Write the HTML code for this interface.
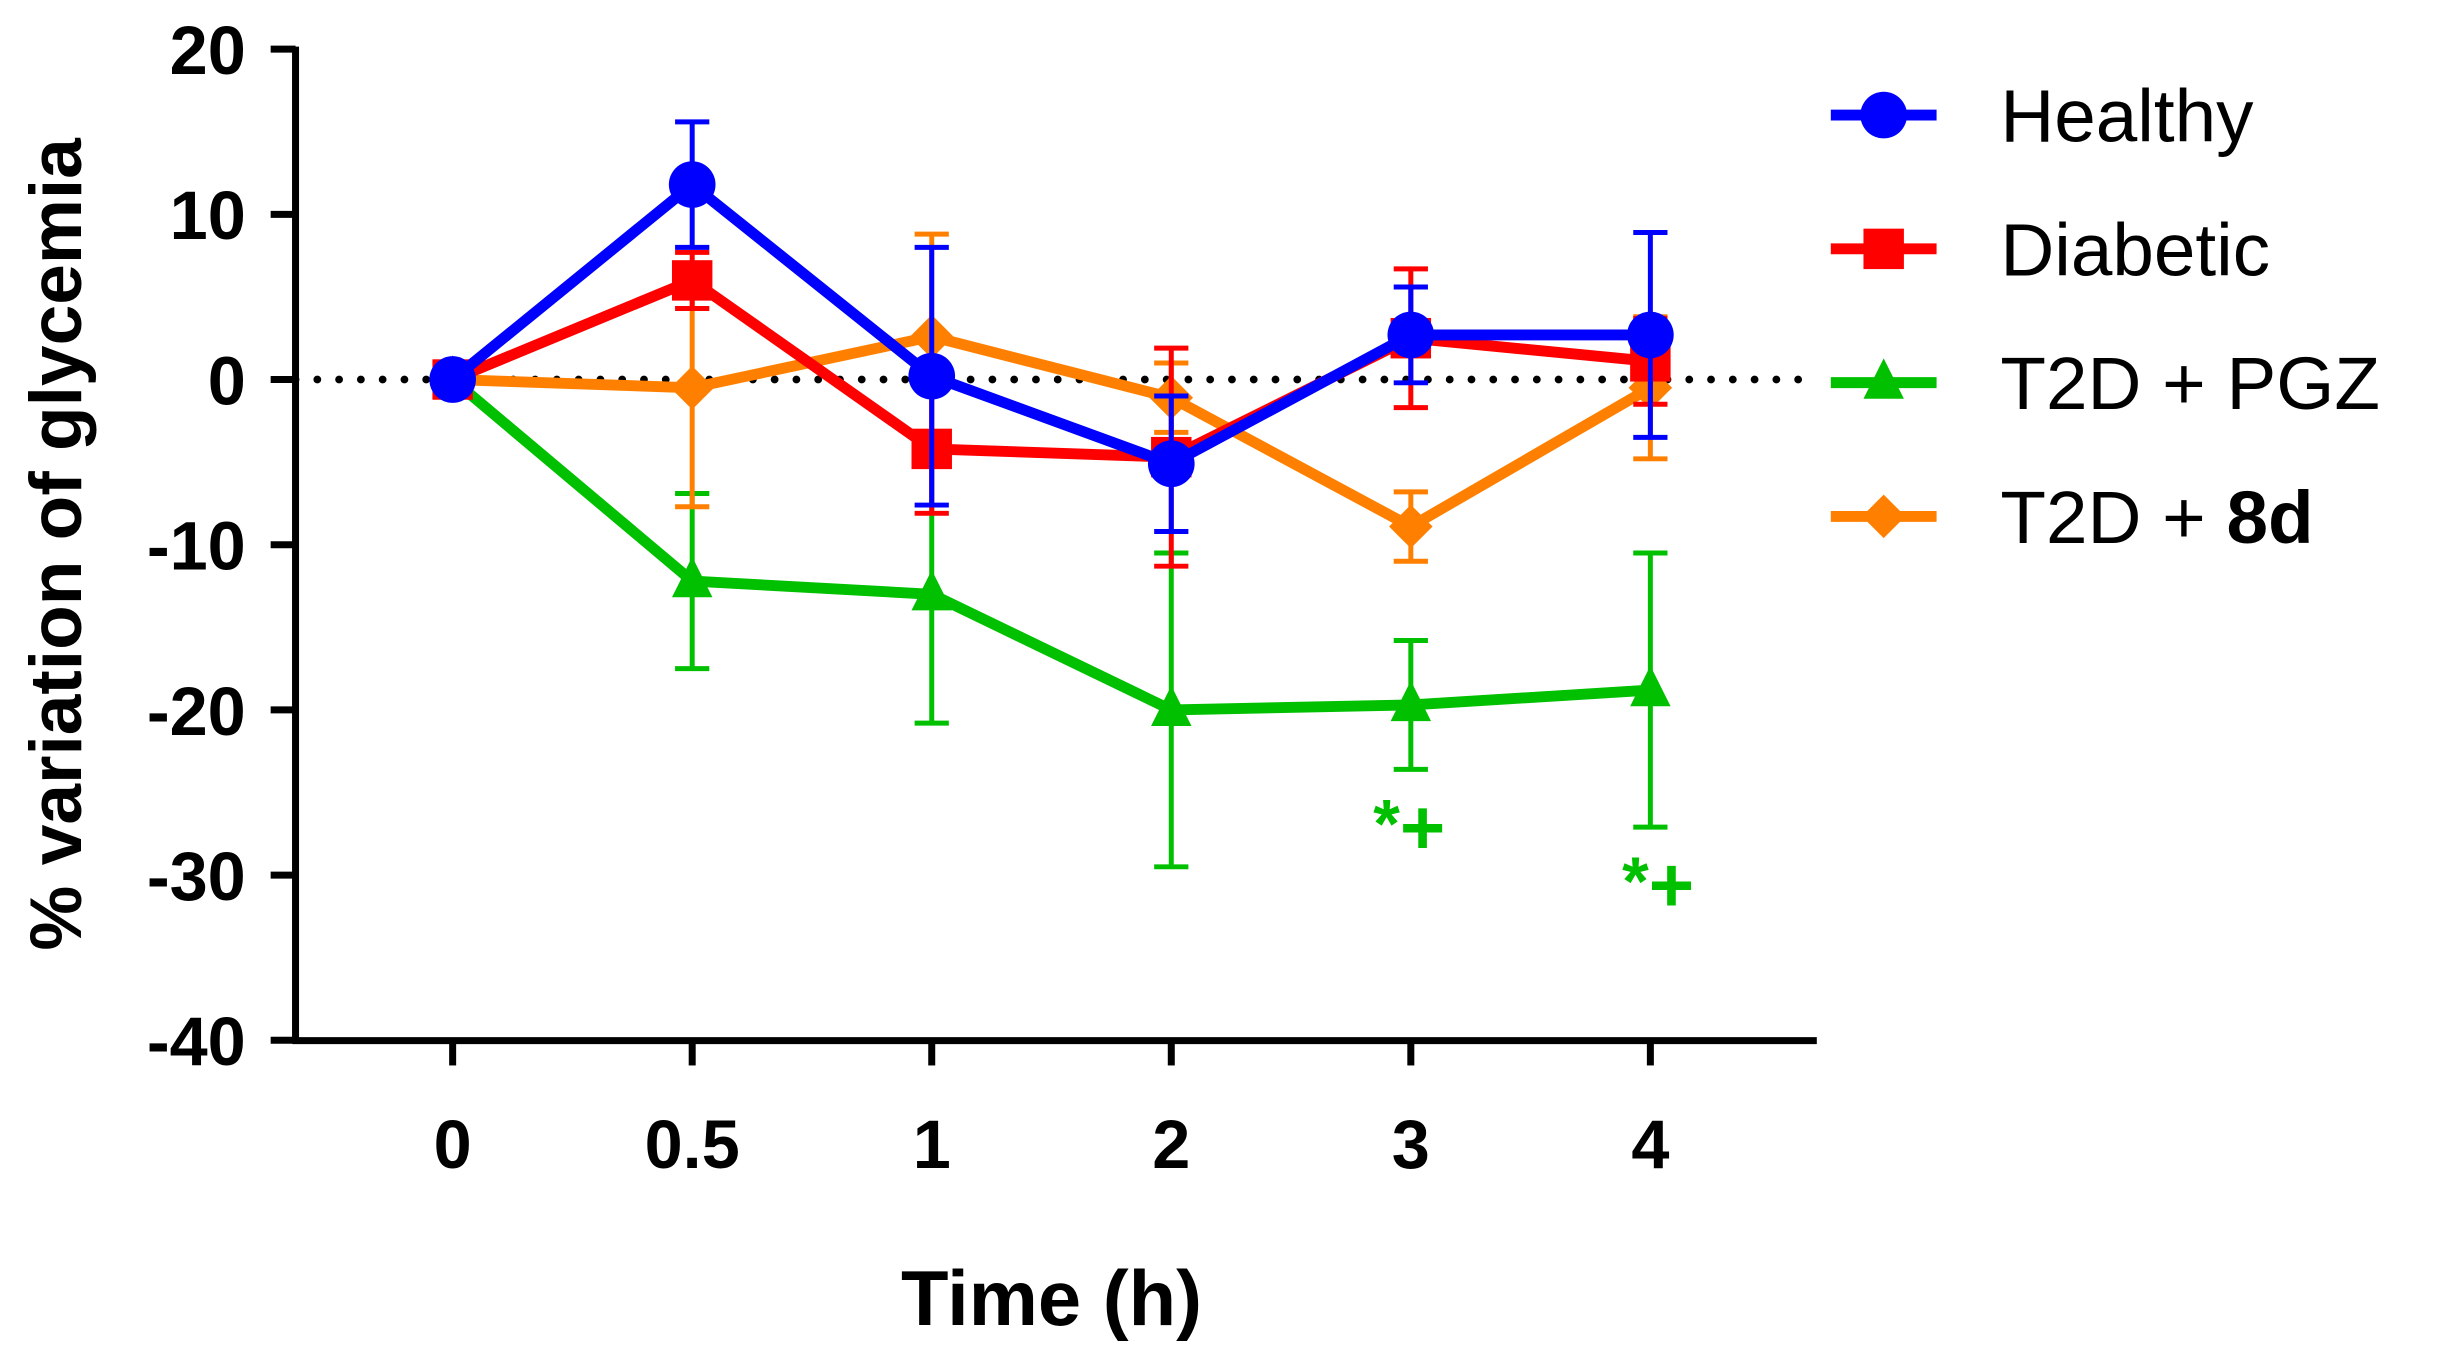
<!DOCTYPE html>
<html><head><meta charset="utf-8"><style>
html,body{margin:0;padding:0;background:#fff}
svg{display:block}
text{font-family:"Liberation Sans",Arial,sans-serif;font-weight:bold}
</style></head><body>
<svg id="chart" width="2439" height="1363" viewBox="0 0 1568 876.3" preserveAspectRatio="none" xmlns="http://www.w3.org/2000/svg">
<g id="axes"></g><g id="plot"></g><g id="legend"></g>
</svg>
<script>
const categories = ["0","0.5","1","2","3","4"];
const yTicks = [20,10,0,-10,-20,-30,-40];
const healthy = [0,11.8,0.2,-5.1,2.7,2.7];
const healthyErr = [0,3.8,7.8,4.1,2.9,6.2];
const diabetic = [0,6,-4.2,-4.7,2.5,1.1];
const diabeticErr = [0,1.7,3.9,6.6,4.2,2.6];
const pgz = [0,-12.2,-13,-20,-19.7,-18.8];
const pgzErr = [0,5.3,7.8,9.5,3.9,8.3];
const d8 = [0,-0.5,2.6,-1.1,-8.9,-0.5];
const d8Err = [0,7.2,6.2,2.1,2.1,4.3];
const seriesNames = ["Healthy","Diabetic","T2D + PGZ","T2D + 8d"];

const NS="http://www.w3.org/2000/svg";
const y = v => 244 - v*10.62;
const x = i => 291 + i*154;
function mk(tag, parent, attrs){const e=document.createElementNS(NS,tag);for(const k in attrs)e.setAttribute(k,attrs[k]);parent.appendChild(e);return e;}
const axes=document.getElementById('axes'), plot=document.getElementById('plot'), legend=document.getElementById('legend');

let a=mk('line',axes,{x1:190,y1:30,x2:190,y2:671,stroke:'#000','stroke-width':4.5});


a=mk('line',axes,{x1:188,y1:669,x2:1168,y2:669,stroke:'#000','stroke-width':4.5});


yTicks.forEach(t=>{
  mk('line',axes,{x1:174,y1:y(t),x2:190,y2:y(t),stroke:'#000','stroke-width':4.5});
  const tx=mk('text',axes,{x:158,y:y(t)+16,'text-anchor':'end','font-size':44});
  tx.textContent=t;
  
  
});
categories.forEach((c,i)=>{
  mk('line',axes,{x1:x(i),y1:669,x2:x(i),y2:685,stroke:'#000','stroke-width':4.5});
  const tx=mk('text',axes,{x:x(i),y:751,'text-anchor':'middle','font-size':44});
  tx.textContent=c;
  
  
});
let t=mk('text',axes,{x:676,y:852,'text-anchor':'middle','font-size':50});
t.textContent='Time (h)';


t=mk('text',axes,{x:0,y:0,'text-anchor':'middle','font-size':47,transform:'translate(52,350) rotate(-90)'});
t.textContent='% variation of glycemia';


let zl=mk('line',axes,{x1:190,y1:y(0),x2:1168,y2:y(0),stroke:'#000','stroke-width':5,'stroke-dasharray':'0 14','stroke-linecap':'round'});



function marker(g,shape,cx,cy,color,s){
  if(shape==='circle') return mk('circle',g,{cx:cx,cy:cy,r:s,fill:color});
  if(shape==='square') return mk('rect',g,{x:cx-s,y:cy-s,width:2*s,height:2*s,fill:color});
  if(shape==='triangle') return mk('polygon',g,{points:`${cx},${cy-s*1.2} ${cx-s},${cy+s*0.8} ${cx+s},${cy+s*0.8}`,fill:color});
  return mk('polygon',g,{points:`${cx},${cy-s} ${cx+s},${cy} ${cx},${cy+s} ${cx-s},${cy}`,fill:color});
}
const series=[
  {n:'healthy',v:healthy,e:healthyErr,c:'#0000ff',s:'circle',sz:15},
  {n:'diabetic',v:diabetic,e:diabeticErr,c:'#ff0000',s:'square',sz:13},
  {n:'t2d-pgz',v:pgz,e:pgzErr,c:'#00c000',s:'triangle',sz:13},
  {n:'t2d-8d',v:d8,e:d8Err,c:'#ff8000',s:'diamond',sz:14}
];
[2,3,1,0].forEach(k=>{
  const S=series[k];
  const g=mk('g',plot,{});
  
  
  S.v.forEach((v,i)=>{
    if(S.e[i]>0){
      const e=mk('path',g,{d:`M${x(i)},${y(v+S.e[i])}V${y(v-S.e[i])}M${x(i)-11},${y(v+S.e[i])}h22M${x(i)-11},${y(v-S.e[i])}h22`,stroke:S.c,'stroke-width':3.2,fill:'none'});
      
      
    }
  });
  const ln=mk('polyline',g,{points:S.v.map((v,i)=>x(i)+','+y(v)).join(' '),stroke:S.c,'stroke-width':7,fill:'none','stroke-linejoin':'round'});
  
  
  S.v.forEach((v,i)=>{
    const m=marker(g,S.s,x(i),y(v),S.c,S.sz);
    
    
  });
});
[[906,545],[1066,582]].forEach(p=>{
  const s=mk('text',plot,{x:p[0],y:p[1],'text-anchor':'middle','font-size':44,fill:'#00c000'});
  s.textContent='*';
  const pl=mk('tspan',s,{'font-size':50,dy:4});
  pl.textContent='+';
  
  
});
series.forEach((S,k)=>{
  const ly=74+k*86;
  const g=mk('g',legend,{});
  
  
  mk('line',g,{x1:1177,y1:ly,x2:1245,y2:ly,stroke:S.c,'stroke-width':7});
  marker(g,S.s,1211,ly,S.c,S.sz);
  const tx=mk('text',g,{x:1286,y:ly+17,'font-size':48,style:'font-weight:normal'});
  if(k===3){tx.textContent='T2D + ';const b=mk('tspan',tx,{style:'font-weight:bold'});b.textContent='8d';}
  else tx.textContent=seriesNames[k];
});
</script>
</body></html>
